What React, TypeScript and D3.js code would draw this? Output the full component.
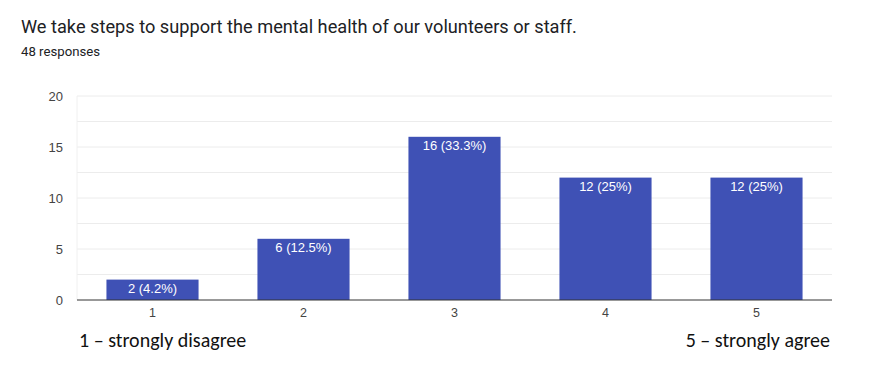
import { useMemo } from "react";
import * as d3 from "d3";

const WIDTH = 877;
const HEIGHT = 369;
const MARGIN = { top: 96, right: 45, bottom: 69, left: 77 };

const CATEGORIES = ["1", "2", "3", "4", "5"];
const COUNTS = [2, 6, 16, 12, 12];
const LABELS = ["2 (4.2%)", "6 (12.5%)", "16 (33.3%)", "12 (25%)", "12 (25%)"];
const Y_TICKS = [0, 5, 10, 15, 20];
const GRID_TICKS = [2.5, 5, 7.5, 10, 12.5, 15, 17.5, 20];

const BAR_COLOR = "#3f51b5";

export default function App() {
    const boundsWidth = WIDTH - MARGIN.left - MARGIN.right;
    const boundsHeight = HEIGHT - MARGIN.top - MARGIN.bottom;

    const xScale = useMemo(
        () => d3.scaleBand().domain(CATEGORIES).range([0, boundsWidth]).paddingInner(0.39).paddingOuter(0.195),
        [boundsWidth]
    );
    const yScale = useMemo(
        () => d3.scaleLinear().domain([0, 20]).range([boundsHeight, 0]),
        [boundsHeight]
    );

    return (
        <svg width={WIDTH} height={HEIGHT} style={{ position: "absolute", left: 0, top: 0 }}>
            <rect width={WIDTH} height={HEIGHT} fill="#fff" />
            <text x={21} y={33} fontFamily="Roboto" fontSize={18.2} fill="#202124">
                We take steps to support the mental health of our volunteers or staff.
            </text>
            <text x={21} y={56} fontFamily="Roboto" fontSize={13.2} fill="#202124">
                48 responses
            </text>
            <g transform={`translate(${MARGIN.left},${MARGIN.top})`}>
                {GRID_TICKS.map((t) => (
                    <line key={t} x1={0} x2={boundsWidth} y1={yScale(t)} y2={yScale(t)} stroke="#ececec" strokeWidth={1} />
                ))}
                <line x1={0} x2={0} y1={0} y2={boundsHeight} stroke="#f0f0f0" />
                {Y_TICKS.map((t) => (
                    <text key={t} x={-14} y={yScale(t)} dy="0.35em" textAnchor="end" fontFamily="Arial, Liberation Sans" fontSize={13} fill="#444">
                        {t}
                    </text>
                ))}
                {CATEGORIES.map((c, i) => {
                    const x = xScale(c) ?? 0;
                    const y = yScale(COUNTS[i]);
                    return (
                        <g key={c}>
                            <rect x={x} y={y} width={xScale.bandwidth()} height={boundsHeight - y} fill={BAR_COLOR} />
                            <text x={x + xScale.bandwidth() / 2} y={y + 13} textAnchor="middle" fontFamily="Arial, Liberation Sans" fontSize={13} fill="#fff">
                                {LABELS[i]}
                            </text>
                            <text x={x + xScale.bandwidth() / 2} y={boundsHeight + 17} textAnchor="middle" fontFamily="Arial, Liberation Sans" fontSize={12.5} fill="#444">
                                {c}
                            </text>
                        </g>
                    );
                })}
                <line x1={0} x2={boundsWidth} y1={boundsHeight} y2={boundsHeight} stroke="#333" strokeWidth={1} />
            </g>
            <text x={79} y={347} fontFamily="Carlito, Lato, Open Sans" fontSize={20} fill="#111">
                1 – strongly disagree
            </text>
            <text x={830} y={347} textAnchor="end" fontFamily="Carlito, Lato, Open Sans" fontSize={20} fill="#111">
                5 – strongly agree
            </text>
        </svg>
    );
}
